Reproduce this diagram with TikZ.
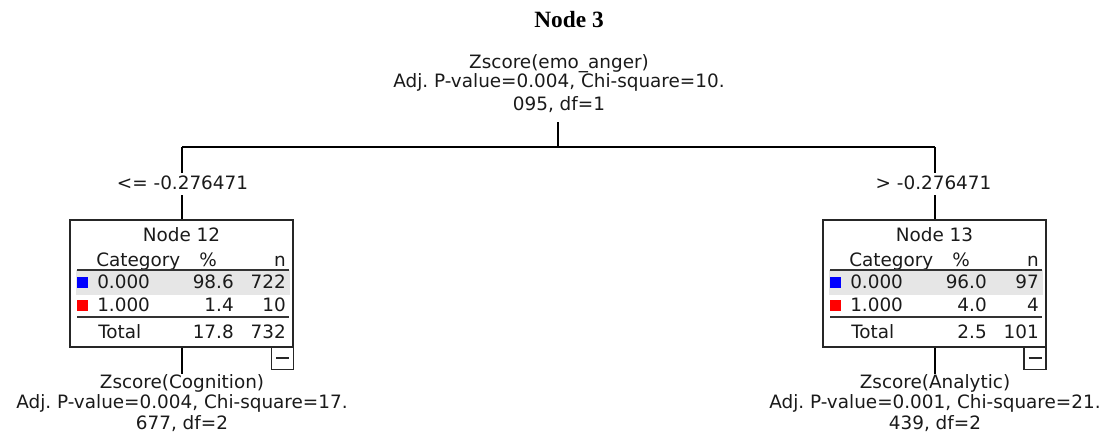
\documentclass[tikz,border=0pt]{standalone}
\usepackage{fontspec}
\setmainfont{DejaVu Sans}
\newfontfamily\titlefont{Liberation Serif}
\definecolor{rowgray}{HTML}{E6E6E6}
\definecolor{txtc}{HTML}{1A1A1A}
\definecolor{sqblue}{HTML}{0000FF}
\definecolor{sqred}{HTML}{FF0000}
\frenchspacing
\begin{document}
\begin{tikzpicture}[x=0.75pt,y=-0.75pt,
  txt/.style={anchor=base, inner sep=0pt, font=\fontsize{13.8}{16}\selectfont, text=txtc},
  txtw/.style={txt, anchor=base west},
  txte/.style={txt, anchor=base east},
  nodebox/.style={draw=black!85, line width=1pt, minimum width=167.25pt, minimum height=95.25pt, inner sep=0pt},
  minusbox/.style={draw=black!85, line width=1pt, minimum width=16.5pt, minimum height=17pt, inner sep=0pt},
  conn/.style={draw=black, line width=1pt},
  rulel/.style={draw=black!80, line width=1.2pt},
  dashmark/.style={draw=black!85, line width=1.4pt},
  ]
\useasboundingbox (0,0) rectangle (1108,439);

% title
\node[anchor=base, inner sep=0pt, font=\titlefont\bfseries\fontsize{17.5}{20}\selectfont] (title) at (569,27) {Node 3};

% root split text
\node[txt] (r1) at (559,68) {Zscore(emo\_anger)};
\node[txt] (r2) at (559,87) {Adj. P-value=0.004, Chi-square=10.};
\node[txt] (r3) at (559,110) {095, df=1};

% connector skeleton
\coordinate (rootbot) at (558,122);
\coordinate (split) at (558,147);
\coordinate (lc) at (182,147);
\coordinate (rc) at (935,147);
\coordinate (lgapa) at (182,173);
\coordinate (lgapb) at (182,195);
\coordinate (rgapa) at (935,173);
\coordinate (rgapb) at (935,195);

% gray rows
\fill[rowgray] (76,270) rectangle (290,295);
\fill[rowgray] (829,270) rectangle (1043,295);

\node[nodebox] (n12) at (181.5,283.5) {};
\node[nodebox] (n13) at (934.5,283.5) {};

\draw[conn] (rootbot) -- (split);
\draw[conn] (lc) -- (rc);
\draw[conn] (lc) -- (lgapa);
\draw[conn] (lgapb) -- (n12.north -| lgapb);
\draw[conn] (rc) -- (rgapa);
\draw[conn] (rgapb) -- (n13.north -| rgapb);

% branch labels
\node[txt] (lab1) at (182.5,189) {<= -0.276471};
\node[txt] (lab2) at (933.5,189) {> -0.276471};

% ---------- Node 12 ----------
\node[txt] (t12) at (181.5,241) {Node 12};
\node[txtw] (c12) at (96,266) {Category};
\node[txte] (p12) at (217,266) {\%};
\node[txte] (nn12) at (286,266) {n};
\draw[rulel] (77,270) -- (289,270);
\fill[sqblue] (77,277) rectangle (88,288);
\node[txtw] (a12) at (97,288) {0.000};
\node[txte] (ap12) at (234,288) {98.6};
\node[txte] (an12) at (286,288) {722};
\fill[sqred] (77,300) rectangle (88,311);
\node[txtw] (b12) at (97,311) {1.000};
\node[txte] (bp12) at (234,311) {1.4};
\node[txte] (bn12) at (286,311) {10};
\draw[rulel] (77,317) -- (289,317);
\node[txtw] (tt12) at (98,338) {Total};
\node[txte] (tp12) at (234,338) {17.8};
\node[txte] (tn12) at (286,338) {732};
\node[minusbox] (m12) at (282.5,358.3) {};
\draw[dashmark] (m12.center) ++(-6.5,0) -- ++(13,0);

% ---------- Node 13 ----------
\node[txt] (t13) at (934.5,241) {Node 13};
\node[txtw] (c13) at (849,266) {Category};
\node[txte] (p13) at (970,266) {\%};
\node[txte] (nn13) at (1039,266) {n};
\draw[rulel] (830,270) -- (1042,270);
\fill[sqblue] (830,277) rectangle (841,288);
\node[txtw] (a13) at (850,288) {0.000};
\node[txte] (ap13) at (987,288) {96.0};
\node[txte] (an13) at (1039,288) {97};
\fill[sqred] (830,300) rectangle (841,311);
\node[txtw] (b13) at (850,311) {1.000};
\node[txte] (bp13) at (987,311) {4.0};
\node[txte] (bn13) at (1039,311) {4};
\draw[rulel] (830,317) -- (1042,317);
\node[txtw] (tt13) at (851,338) {Total};
\node[txte] (tp13) at (987,338) {2.5};
\node[txte] (tn13) at (1039,338) {101};
\node[minusbox] (m13) at (1035,358.3) {};
\draw[dashmark] (m13.center) ++(-6.5,0) -- ++(13,0);

% ---------- child split texts ----------
\node[txt] (cg1) at (182,388) {Zscore(Cognition)};
\node[txt] (cg2) at (182,408) {Adj. P-value=0.004, Chi-square=17.};
\node[txt] (cg3) at (182,429) {677, df=2};
\node[txt] (an1) at (935,388) {Zscore(Analytic)};
\node[txt] (an2) at (935,408) {Adj. P-value=0.001, Chi-square=21.};
\node[txt] (an3) at (935,429) {439, df=2};

\draw[conn] (n12.south -| cg1) -- (cg1.north);
\draw[conn] (n13.south -| an1) -- (an1.north);
\end{tikzpicture}
\end{document}
